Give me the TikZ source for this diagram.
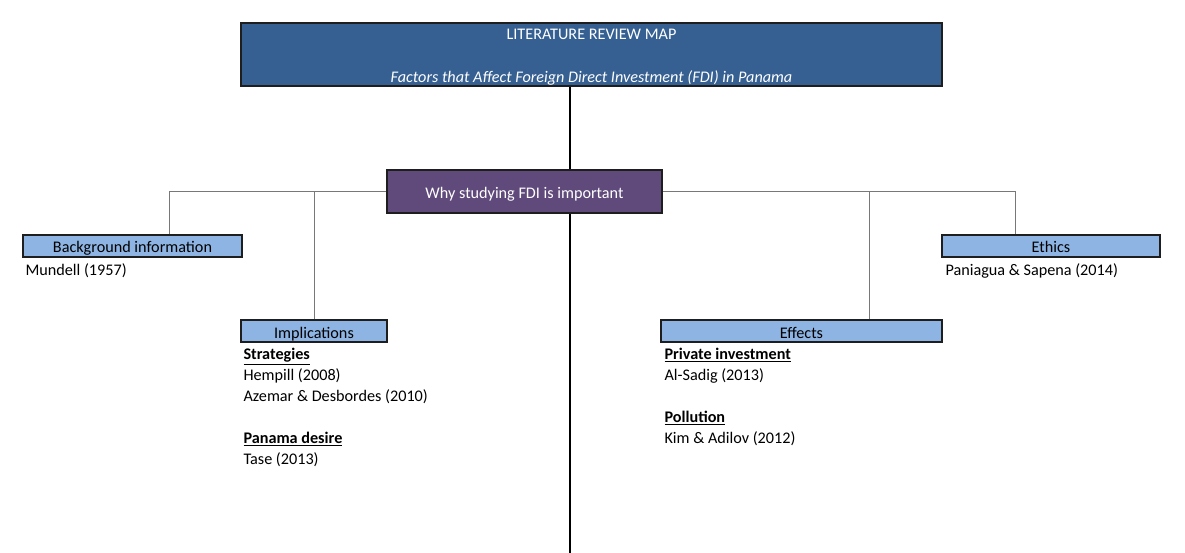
\documentclass[tikz,border=0pt]{standalone}
\usepackage{fontspec}
\setmainfont{Carlito}
\usetikzlibrary{calc}
\definecolor{topblue}{RGB}{54,96,146}
\definecolor{whypurple}{RGB}{96,74,123}
\definecolor{lightblue}{RGB}{141,180,226}
\definecolor{connGray}{RGB}{120,120,120}
\definecolor{edgeDark}{RGB}{30,30,30}
\begin{document}
\begin{tikzpicture}[x=1pt,y=-1pt,
  txt/.style={font=\fontsize{16.2}{21}\selectfont},
  topbox/.style={draw=edgeDark,line width=1.5pt,fill=topblue,inner sep=0pt,minimum width=701pt,minimum height=63pt},
  toptext/.style={txt,text=white,anchor=base,inner sep=0pt},
  whybox/.style={draw=edgeDark,line width=1.5pt,fill=whypurple,text=white,txt,inner sep=0pt,minimum width=275pt,minimum height=43pt,text height=14pt,text depth=0pt},
  catbox/.style={draw=edgeDark,line width=1.3pt,fill=lightblue,text=black,txt,inner sep=0pt,minimum height=22pt,text height=14pt,text depth=0pt},
  reflist/.style={txt,align=left,anchor=north west,inner sep=0pt},
  mainline/.style={line width=2pt,black},
  conn/.style={line width=0.9pt,connGray}]
\fill[white] (0,0) rectangle (1185,553);
\useasboundingbox (0,0) rectangle (1185,553);

% main vertical line
\coordinate (bottom) at (570,553);
\node[topbox] (top) at (591.5,54.5) {};
\node[toptext] (title) at ($(top.north)+(0,17)$) {LITERATURE REVIEW MAP};
\node[toptext] (subtitle) at ($(top.north)+(0,60)$) {\textit{Factors that Affect Foreign Direct Investment (FDI) in Panama}};
\draw[mainline] (top.south -| bottom) -- (bottom);

% category boxes
\node[catbox,minimum width=219pt] (bg) at (132.5,246) {Background information};
\node[catbox,minimum width=146pt] (impl) at (314,331) {Implications};
\node[catbox,minimum width=281pt] (eff) at (801.5,331) {Effects};
\node[catbox,minimum width=218pt] (eth) at (1051,246) {Ethics};

% connector anchor points on box tops
\coordinate (bgtop) at ($(bg.north west)!0.667!(bg.north east)$);
\coordinate (impltop) at (impl.north);
\coordinate (efftop) at ($(eff.north west)!0.74!(eff.north east)$);
\coordinate (ethtop) at ($(eth.north west)!0.34!(eth.north east)$);

\node[whybox] (why) at (524.5,191.5) {Why studying FDI is important};

\draw[conn] (why.west) -| (bgtop);
\draw[conn] (impltop) -- (impltop |- why.west);
\draw[conn] (why.east) -| (ethtop);
\draw[conn] (efftop) -- (efftop |- why.east);

% reference lists
\node[reflist] (bgrefs) at ($(bg.south west)+(3,5.5)$) {Mundell (1957)};
\node[reflist] (implrefs) at ($(impl.south west)+(3,5.5)$) {\underline{\textbf{Strategies}}\\Hempill (2008)\\Azemar \& Desbordes (2010)\\[21pt]\underline{\textbf{Panama desire}}\\Tase (2013)};
\node[reflist] (effrefs) at ($(eff.south west)+(4,5.5)$) {\underline{\textbf{Private investment}}\\Al-Sadig (2013)\\[21pt]\underline{\textbf{Pollution}}\\Kim \& Adilov (2012)};
\node[reflist] (ethrefs) at ($(eth.south west)+(4,5.5)$) {Paniagua \& Sapena (2014)};
\end{tikzpicture}
\end{document}
